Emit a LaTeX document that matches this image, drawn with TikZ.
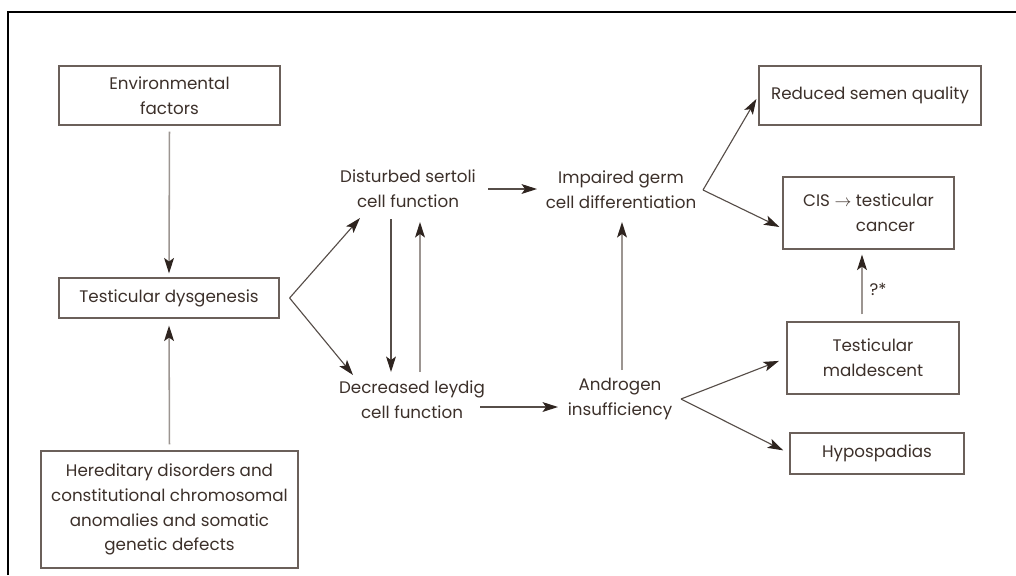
\documentclass[tikz,border=0pt]{standalone}
\usepackage{fontspec}
\setmainfont{Poppins}
\usetikzlibrary{arrows.meta}
\definecolor{inkbrown}{HTML}{3C302A}
\definecolor{boxline}{HTML}{6B605A}
\definecolor{darkline}{HTML}{564D48}
\definecolor{lightline}{HTML}{9C9591}
\definecolor{headfill}{HTML}{2E241F}

\begin{document}
\begin{tikzpicture}[x=0.025cm,y=-0.025cm,
	every node/.style={text=inkbrown,font=\fontsize{11.9}{17.7}\selectfont,align=center},
	box/.style={draw=boxline,line width=0.8pt,inner sep=0pt},
	arr/.style={draw=darkline,line width=0.8pt,-{Stealth[length=11pt,width=7pt,inset=2.5pt,color=headfill]}},
	arrlight/.style={arr,draw=lightline,line width=1.1pt}]
			\useasboundingbox (0,0) rectangle (1016,575);
			\draw[line width=1.4pt] (8,575) -- (8,12) -- (1016,12);
			\node[box,minimum width=5.525cm,minimum height=1.475cm] (env) at (169.5,95.5) {Environmental\\factors};
			\node[box,minimum width=5.5cm,minimum height=1cm] (td) at (169,298) {Testicular dysgenesis};
			\node[box,minimum width=6.425cm,minimum height=2.925cm] (her) at (169.5,509.5) {Hereditary disorders and\\constitutional chromosomal\\anomalies and somatic\\genetic defects};
			\node[box,minimum width=5.55cm,minimum height=1.475cm] (semen) at (870,95.5) {Reduced semen quality};
			\node[box,minimum width=4.275cm,minimum height=1.8cm,align=left] (cis) at (868.5,213) {CIS $\rightarrow$ testicular\\\phantom{CIS $\rightarrow$ }cancer};
			\node[box,minimum width=4.3cm,minimum height=1.8cm] (mal) at (873,358) {Testicular\\maldescent};
			\node[box,minimum width=4.35cm,minimum height=1.025cm] (hyp) at (877,453.5) {Hypospadias};
			\node (sertoli) at (408,189) {Disturbed sertoli\\cell function};
			\node (germ) at (621,190) {Impaired germ\\cell differentiation};
			\node (leydig) at (412,400) {Decreased leydig\\cell function};
			\node (andro) at (620,399) {Androgen\\insufficiency};
			\coordinate (tdfork) at ([shift={(10,0)}]td.east);
			\coordinate (germfork) at ([shift={(82,0)}]germ.center);
			\coordinate (androfork) at ([shift={(61,0)}]andro.center);
			\draw[arrlight,shorten <=0.15cm,shorten >=0.1cm] (env.south) -- (td.north);
			\draw[arrlight,shorten <=0.15cm,shorten >=0.175cm] (her.north) -- (td.south);
			\draw[arr] (tdfork) -- ([shift={(-48,29)}]sertoli.center);
			\draw[arr] (tdfork) -- ([shift={(-59,-25)}]leydig.center);
			\draw[arr] ([shift={(-17,30)}]sertoli.center) -- ([shift={(-21,-28)}]leydig.center);
			\draw[arrlight] ([shift={(8,-28)}]leydig.center) -- ([shift={(12,33)}]sertoli.center);
			\draw[arr] ([shift={(80,0)}]sertoli.center) -- ([shift={(-84,-1)}]germ.center);
			\draw[arr] ([shift={(68,7)}]leydig.center) -- ([shift={(-62,8)}]andro.center);
			\draw[arrlight] ([shift={(2,-29)}]andro.center) -- ([shift={(1,32)}]germ.center);
			\draw[arr,shorten >=0.1cm] (germfork) -- (semen.west);
			\draw[arr] (germfork) -- ([shift={(-3,14)}]cis.west);
			\draw[arr,shorten >=0.2cm] (androfork) -- (mal.west);
			\draw[arr,shorten >=0.175cm] (androfork) -- (hyp.west);
			\draw[arrlight,shorten <=0.175cm,shorten >=0.125cm] ([shift={(-11,0)}]mal.north) -- ([shift={(-6.5,0)}]cis.south) node[pos=0.44,right,xshift=1.5pt] (qmark) {?*};
		\end{tikzpicture}
\end{document}
